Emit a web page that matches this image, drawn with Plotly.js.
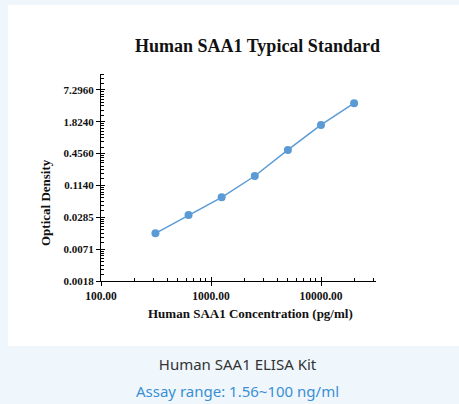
<!DOCTYPE html>
<html>
<head>
<meta charset="utf-8">
<script src="https://cdn.plot.ly/plotly-3.0.1.min.js"></script>
<style>
  html, body { margin:0; padding:0; width:459px; height:404px; overflow:hidden; background:#eff7fd; }
  #panel { position:absolute; left:8px; top:5px; width:451px; height:341px; background:#ffffff; }
  #chart { position:absolute; left:0; top:0; width:459px; height:404px; }
  .cap { position:absolute; left:0; width:459px; text-align:center; font-family:"Noto Sans", "Open Sans", sans-serif; font-size:15px; }
  #cap1 { top:354px; color:#333333; padding-left:16px; box-sizing:border-box; }
  #cap2 { top:381px; color:#3a8fd3; padding-left:16px; box-sizing:border-box; }
</style>
</head>
<body>
<div id="panel"></div>
<div id="chart"></div>
<div class="cap" id="cap1">Human SAA1 ELISA Kit</div>
<div class="cap" id="cap2">Assay range: 1.56~100 ng/ml</div>
<script>
// Data (concentration pg/ml, optical density)
const concentration = [312.5, 625, 1250, 2500, 5000, 10000, 20000];
const opticalDensity = [0.0142, 0.0316, 0.068, 0.172, 0.535, 1.59, 4.09];

// Tick values / labels
const xTickVals = [100, 1000, 10000];
const xTickText = ["100.00", "1000.00", "10000.00"];
const yTickVals = [0.00178125, 0.007125, 0.0285, 0.114, 0.456, 1.824, 7.296];
const yTickText = ["0.0018", "0.0071", "0.0285", "0.1140", "0.4560", "1.8240", "7.2960"];

const xRange = [2, 4.5];
const yRange = [Math.log10(0.00178125), Math.log10(14.592)];

// minor ticks
const xMinor = [];
for (let d = 100; d < 100000; d *= 10) {
  for (let k = 2; k <= 9; k++) xMinor.push(d * k);
}
const yMinor = [];
yTickVals.forEach(m => { for (let j = 1; j <= 8; j++) yMinor.push(m * (1 + j / 3)); });

const serif = "Liberation Serif, Times New Roman, serif";
const blue = "#5b9bd5";

const W = 459, H = 404, L = 101, R = 83, T = 74, B = 123;
const pw = W - L - R, ph = H - T - B;
const px = x => (x - L) / pw;
const py = y => (H - B - y) / ph;

const traces = [{
  x: concentration, y: opticalDensity, type: "scatter", mode: "lines+markers",
  line: { color: blue, width: 1.5 },
  marker: { color: blue, size: 8 },
  hoverinfo: "x+y", showlegend: false
}];

const baseX = {
  type: "log", range: xRange, showgrid: false, zeroline: false
};
const baseY = {
  type: "log", range: yRange, showgrid: false, zeroline: false
};

const layout = {
  width: W, height: H,
  margin: { l: L, r: R, t: T, b: B, pad: 0 },
  paper_bgcolor: "rgba(0,0,0,0)",
  plot_bgcolor: "rgba(0,0,0,0)",
  showlegend: false,
  xaxis: Object.assign({}, baseX, {
    showline: true, linecolor: "#000", linewidth: 1,
    tickmode: "array", tickvals: xTickVals, ticktext: xTickText,
    ticks: "outside", ticklen: 4, tickcolor: "#000", tickwidth: 1,
    tickfont: { family: serif, size: 11.5, color: "#111", weight: "bold" },
    minor: { tickmode: "array", tickvals: xMinor, ticks: "inside", ticklen: 3, tickcolor: "#000", tickwidth: 1, showgrid: false }
  }),
  yaxis: Object.assign({}, baseY, {
    showline: true, linecolor: "#000", linewidth: 1,
    tickmode: "array", tickvals: yTickVals, ticktext: yTickText,
    ticks: "outside", ticklen: 4, tickcolor: "#000", tickwidth: 1,
    tickfont: { family: serif, size: 11, color: "#111", weight: "bold" },
    minor: { tickmode: "array", tickvals: yMinor, ticks: "inside", ticklen: 3, tickcolor: "#000", tickwidth: 1, showgrid: false }
  }),
  xaxis2: Object.assign({}, baseX, {
    overlaying: "x", anchor: "y", side: "bottom",
    tickmode: "array", tickvals: xTickVals, showticklabels: false,
    ticks: "inside", ticklen: 4, tickcolor: "#000", tickwidth: 1, showline: false
  }),
  yaxis2: Object.assign({}, baseY, {
    overlaying: "y", anchor: "x", side: "left",
    tickmode: "array", tickvals: yTickVals, showticklabels: false,
    ticks: "inside", ticklen: 4, tickcolor: "#000", tickwidth: 1, showline: false
  }),
  annotations: [
    { text: "Human SAA1 Typical Standard", xref: "paper", yref: "paper",
      x: px(257), y: py(46), xanchor: "center", yanchor: "middle", showarrow: false,
      font: { family: serif, size: 18, color: "#111", weight: "bold" } },
    { text: "Human SAA1 Concentration (pg/ml)", xref: "paper", yref: "paper",
      x: px(250), y: py(313), xanchor: "center", yanchor: "middle", showarrow: false,
      font: { family: serif, size: 13, color: "#111", weight: "bold" } },
    { text: "Optical Density", xref: "paper", yref: "paper", textangle: -90,
      x: px(45), y: py(203), xanchor: "center", yanchor: "middle", showarrow: false,
      font: { family: serif, size: 13, color: "#111", weight: "bold" } }
  ]
};

traces.push({ x: [], y: [], xaxis: "x2", yaxis: "y2", type: "scatter", mode: "markers", showlegend: false, hoverinfo: "skip" });

Plotly.newPlot("chart", traces, layout, { staticPlot: true, displayModeBar: false });
</script>
</body>
</html>
